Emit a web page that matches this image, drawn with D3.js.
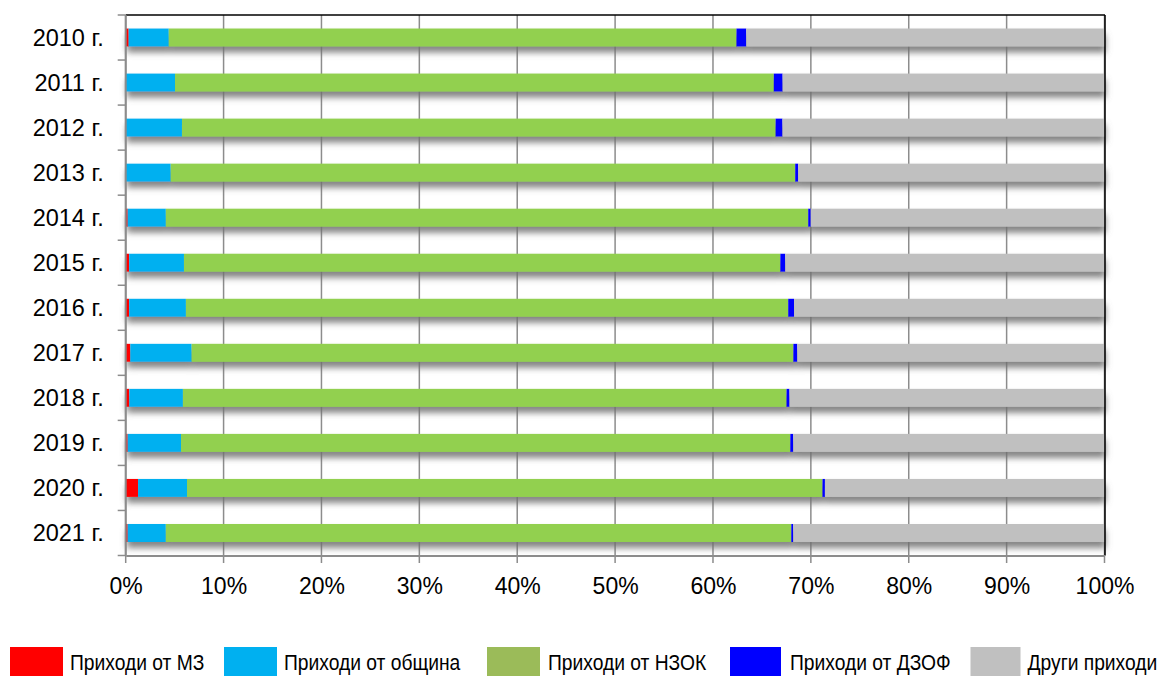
<!DOCTYPE html>
<html>
<head>
<meta charset="utf-8">
<script src="https://cdn.jsdelivr.net/npm/d3@7"></script>
<style>
  html, body { margin: 0; padding: 0; background: #fff; }
  svg { display: block; font-family: "Liberation Sans", Arial, sans-serif; }
</style>
</head>
<body>
<svg id="chart" width="1163" height="676"></svg>
<script>
// ---- data ----
const years = ["2010 г.", "2011 г.", "2012 г.", "2013 г.", "2014 г.", "2015 г.", "2016 г.", "2017 г.", "2018 г.", "2019 г.", "2020 г.", "2021 г."];
const seriesNames = ["Приходи от МЗ", "Приходи от община", "Приходи от НЗОК", "Приходи от ДЗОФ", "Други приходи"];
const mz      = [0.3, 0.0, 0.0, 0.0, 0.2, 0.35, 0.35, 0.47, 0.37, 0.2, 1.26, 0.2];
const obshtina= [4.1, 5.04, 5.75, 4.6, 3.9, 5.6, 5.8, 6.27, 5.48, 5.45, 5.0, 3.9];
const nzok    = [58.0, 61.2, 60.65, 63.8, 65.6, 60.9, 61.5, 61.5, 61.7, 62.25, 64.9, 63.9];
const dzof    = [1.0, 0.9, 0.7, 0.3, 0.26, 0.5, 0.6, 0.4, 0.3, 0.3, 0.25, 0.2];
const drugi   = [36.6, 32.9, 32.9, 31.3, 30.0, 32.6, 31.7, 31.4, 32.2, 31.8, 28.55, 31.8];
const xTicks  = [0, 0.1, 0.2, 0.3, 0.4, 0.5, 0.6, 0.7, 0.8, 0.9, 1.0];

const barColors    = ["#FF0000", "#00B0F0", "#92D050", "#0000FF", "#C0C0C0"];
const legendColors = ["#FF0000", "#00B0F0", "#9BBB59", "#0000FF", "#C0C0C0"];

// ---- build table ----
const arrays = [mz, obshtina, nzok, dzof, drugi];
const table = years.map((yr, i) => {
  const row = { year: yr };
  seriesNames.forEach((s, k) => row[s] = arrays[k][i]);
  return row;
});
const stacked = d3.stack().keys(seriesNames).offset(d3.stackOffsetExpand)(table);

// ---- layout ----
const svg = d3.select("#chart");
const pLeft = 125.7, pRight = 1104.5, pTop = 15, pBottom = 555.5;

const x = d3.scaleLinear().domain([0, 1]).range([pLeft, pRight]);
const y = d3.scaleBand().domain(years).range([pTop, pBottom]).paddingInner(0.6).paddingOuter(0.3);

const defs = svg.append("defs");
const f = defs.append("filter").attr("id", "shadow")
  .attr("x", "-5%").attr("y", "-50%").attr("width", "110%").attr("height", "250%");
f.append("feGaussianBlur").attr("in", "SourceAlpha").attr("stdDeviation", 3).attr("result", "blur");
f.append("feOffset").attr("in", "blur").attr("dx", 1).attr("dy", 6).attr("result", "off");
f.append("feFlood").attr("flood-color", "#707070").attr("flood-opacity", 0.85).attr("result", "col");
f.append("feComposite").attr("in", "col").attr("in2", "off").attr("operator", "in").attr("result", "sh");
const m = f.append("feMerge");
m.append("feMergeNode").attr("in", "sh");
m.append("feMergeNode").attr("in", "SourceGraphic");

// gridlines (vertical) with tick extension below axis
svg.append("g").selectAll("line").data(xTicks).join("line")
  .attr("x1", d => x(d)).attr("x2", d => x(d))
  .attr("y1", pTop).attr("y2", pBottom + 7.5)
  .attr("stroke", "#8c8c8c").attr("stroke-width", 1.5);

// bars
const rows = svg.append("g").selectAll("g.row").data(table.map((d, i) => i)).join("g")
  .attr("class", "row")
  .attr("filter", "url(#shadow)");
rows.each(function(i) {
  d3.select(this).selectAll("rect").data(stacked.map((s, k) => ({ k, v: s[i] }))).join("rect")
    .attr("x", d => x(d.v[0]))
    .attr("width", d => Math.max(0, x(d.v[1]) - x(d.v[0])))
    .attr("y", y(years[i]))
    .attr("height", y.bandwidth())
    .attr("fill", d => barColors[d.k]);
});

// top and right frame
svg.append("line").attr("x1", pLeft).attr("x2", pRight + 0.5).attr("y1", pTop).attr("y2", pTop)
  .attr("stroke", "#000").attr("stroke-width", 1.5);
svg.append("line").attr("x1", pRight + 0.5).attr("x2", pRight + 0.5).attr("y1", pTop).attr("y2", pBottom)
  .attr("stroke", "#000").attr("stroke-width", 1.5);

// bottom axis
const xAxis = d3.axisBottom(x).tickValues(xTicks).tickFormat(d3.format(".0%")).tickSize(0).tickPadding(0);
const gx = svg.append("g").attr("transform", `translate(0,${pBottom})`).call(xAxis);
gx.select(".domain").attr("stroke", "#8c8c8c").attr("stroke-width", 2);
gx.selectAll("text").attr("font-size", 23).attr("fill", "#000")
  .attr("font-family", "Liberation Sans, Arial, sans-serif").attr("dy", 0).attr("y", 38);

// left axis
const yAxis = d3.axisLeft(y).tickSize(0).tickPadding(22);
const gy = svg.append("g").attr("transform", `translate(${pLeft},0)`).call(yAxis);
gy.select(".domain").remove();
gy.selectAll("text").attr("font-size", 23.5).attr("fill", "#000")
  .attr("font-family", "Liberation Sans, Arial, sans-serif").attr("dy", "0.36em");
svg.append("line").attr("x1", pLeft).attr("x2", pLeft).attr("y1", pTop).attr("y2", pBottom)
  .attr("stroke", "#8c8c8c").attr("stroke-width", 2);
svg.append("g").selectAll("line").data(d3.range(years.length + 1)).join("line")
  .attr("x1", pLeft - 8).attr("x2", pLeft)
  .attr("y1", i => pTop + i * y.step()).attr("y2", i => pTop + i * y.step())
  .attr("stroke", "#8c8c8c").attr("stroke-width", 1.5);

// legend
const legendX = [10, 224, 487, 730, 970.5];
const legendW = [53, 53, 53, 51, 50];
const legendTextDx = [60, 60, 61, 60, 57];
const lg = svg.append("g").selectAll("g").data(seriesNames).join("g")
  .attr("transform", (d, i) => `translate(${legendX[i]},647)`);
lg.append("rect").attr("width", (d, i) => legendW[i]).attr("height", 32).attr("fill", (d, i) => legendColors[i]);
lg.append("text")
  .attr("transform", (d, i) => `translate(${legendTextDx[i]},23) scale(0.875,1)`)
  .attr("font-size", 22).attr("fill", "#000")
  .text(d => d);
</script>
</body>
</html>
